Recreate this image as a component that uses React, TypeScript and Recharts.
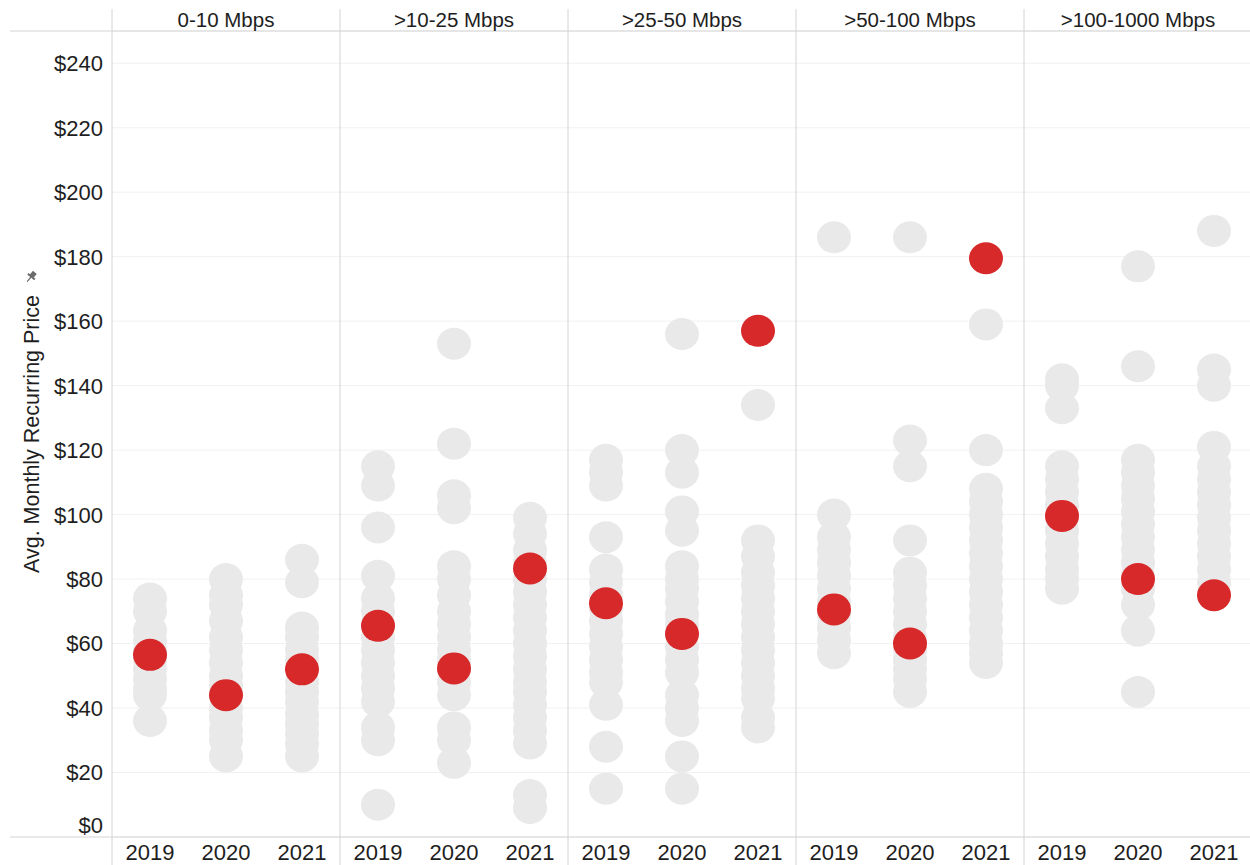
import React from "react";
import { ScatterChart, Scatter, XAxis, YAxis, CartesianGrid } from "recharts";

const tiers = ["0-10 Mbps", ">10-25 Mbps", ">25-50 Mbps", ">50-100 Mbps", ">100-1000 Mbps"];
const years = ["2019", "2020", "2021"];
const priceTicks = [0, 20, 40, 60, 80, 100, 120, 140, 160, 180, 200, 220, 240];

// individual plan prices, one list per year (2019, 2020, 2021)
const prices0to10 = [
  [74, 70, 64, 61, 58, 55, 52, 49, 46, 44, 36],
  [80, 75, 72, 67, 62, 58, 54, 50, 47, 44, 40, 37, 33, 30, 25],
  [86, 79, 65, 62, 58, 55, 52, 48, 45, 42, 38, 35, 32, 29, 25],
];
const prices10to25 = [
  [115, 109, 96, 81, 74, 70, 66, 62, 58, 54, 50, 46, 42, 34, 30, 10],
  [153, 122, 106, 102, 84, 80, 75, 70, 66, 62, 58, 55, 52, 48, 44, 34, 30, 23],
  [99, 94, 89, 85, 80, 76, 72, 68, 64, 60, 56, 52, 48, 45, 41, 37, 33, 29, 13, 9],
];
const prices25to50 = [
  [117, 113, 109, 93, 83, 79, 75, 71, 67, 63, 59, 55, 51, 48, 41, 28, 15],
  [156, 120, 113, 101, 95, 84, 80, 77, 73, 69, 66, 59, 55, 51, 44, 40, 36, 25, 15],
  [134, 92, 87, 82, 78, 74, 70, 66, 62, 58, 54, 50, 46, 43, 37, 34],
];
const prices50to100 = [
  [186, 100, 93, 89, 85, 81, 77, 73, 69, 65, 61, 57],
  [186, 123, 115, 92, 82, 78, 74, 70, 66, 62, 58, 55, 52, 49, 45],
  [159, 120, 108, 104, 100, 96, 92, 88, 84, 80, 76, 72, 68, 64, 60, 57, 54],
];
const prices100to1000 = [
  [142, 140, 133, 115, 111, 107, 103, 99, 95, 91, 87, 83, 80, 77],
  [177, 146, 117, 113, 109, 105, 101, 97, 93, 89, 85, 81, 77, 72, 64, 45],
  [188, 145, 140, 121, 115, 111, 107, 103, 99, 95, 91, 87, 83, 79],
];
// average per tier, per year
const avgPrices = [
  [56.5, 44, 52],
  [65.5, 52.3, 83.3],
  [72.5, 63, 157],
  [70.6, 60, 179.5],
  [99.6, 80, 75],
];

const tierPrices = [prices0to10, prices10to25, prices25to50, prices50to100, prices100to1000];

const planPoints = tierPrices.flatMap((byYear, t) =>
  byYear.flatMap((list, y) => list.map((price) => ({ slot: t * 3 + y, price })))
);
const avgPoints = avgPrices.flatMap((row, t) => row.map((price, y) => ({ slot: t * 3 + y, price })));
const yearSlots = planPoints.map((p) => p.slot).filter((s, i, a) => a.indexOf(s) === i);
const tierSlots = tiers.map((_, t) => t * 3 + 1);

const W = 1250;
const H = 865;
const LEFT = 112;
const TOP = 31;
const BOTTOM = 28;
const RIGHT = -2; // last panel runs slightly past the window edge
const PANEL_W = (W - RIGHT - LEFT) / tiers.length;
const FONT = "'Liberation Sans', Arial, sans-serif";
const LINE = "#d4d4d4";

function PriceTick({ x, y, payload }: any) {
  return (
    <text x={x} y={payload.value === 0 ? y - 12 : y} dy="0.36em" textAnchor="end"
      fontSize={22} fontFamily={FONT} fill="#1e1e1e">
      ${payload.value}
    </text>
  );
}

function YearTick({ x, y, payload }: any) {
  return (
    <text x={x} y={y + 15} dy="0.36em" textAnchor="middle" fontSize={22} fontFamily={FONT} fill="#1e1e1e">
      {years[payload.value % 3]}
    </text>
  );
}

function TierTick({ x, y, payload }: any) {
  return (
    <text x={x} y={y - 11} dy="0.36em" textAnchor="middle" fontSize={20.5} fontFamily={FONT} fill="#1e1e1e">
      {tiers[Math.floor(payload.value / 3)]}
    </text>
  );
}

const greyDot = (props: any) => <ellipse cx={props.cx} cy={props.cy} rx={17} ry={16} fill="#e9e9e9" />;
const redDot = (props: any) => <ellipse cx={props.cx} cy={props.cy} rx={17} ry={16} fill="#d7282a" />;

export default function App() {
  return (
    <div style={{ position: "absolute", left: 0, top: 0, width: W, height: H, background: "#fff", overflow: "hidden" }}>
      <ScatterChart width={W} height={H} margin={{ top: 0, right: RIGHT, bottom: 0, left: 0 }}>
        <CartesianGrid xAxisId="years" vertical={false} stroke="#f1f1f1" />
        <XAxis xAxisId="years" type="number" dataKey="slot" domain={[-0.5, 14.5]} ticks={yearSlots}
          interval={0} tick={<YearTick />} tickLine={false} tickSize={0} tickMargin={0}
          axisLine={false} height={BOTTOM} />
        <XAxis xAxisId="tiers" orientation="top" type="number" dataKey="slot" domain={[-0.5, 14.5]}
          ticks={tierSlots} interval={0} tick={<TierTick />} tickLine={false} tickSize={0}
          tickMargin={0} axisLine={false} height={TOP} />
        <YAxis type="number" dataKey="price" domain={[0, 250]} ticks={priceTicks} interval={0}
          tick={<PriceTick />} tickLine={false} tickSize={0} tickMargin={9} axisLine={false} width={LEFT} />
        <Scatter xAxisId="years" data={planPoints} shape={greyDot} isAnimationActive={false} />
        <Scatter xAxisId="tiers" data={avgPoints} shape={redDot} isAnimationActive={false} />

        <line x1={10} x2={W} y1={TOP} y2={TOP} stroke={LINE} />
        <line x1={10} x2={W} y1={H - BOTTOM} y2={H - BOTTOM} stroke={LINE} />
        {tiers.map((t, i) => (
          <line key={t} x1={LEFT + i * PANEL_W} x2={LEFT + i * PANEL_W} y1={9} y2={H} stroke={LINE} />
        ))}
        <text transform={`translate(31, ${(TOP + H - BOTTOM) / 2}) rotate(-90)`} dy="0.36em"
          textAnchor="middle" fontSize={21.5} fontFamily={FONT} fill="#1e1e1e">
          Avg. Monthly Recurring Price
        </text>
        <g transform="translate(31, 277) rotate(40)" fill="#6b6b6b" stroke="#6b6b6b">
          <rect x={-2.5} y={-6} width={5} height={5} stroke="none" />
          <rect x={-4.5} y={-1.5} width={9} height={2} stroke="none" />
          <line x1={0} y1={0} x2={0} y2={6} strokeWidth={1.2} />
        </g>
      </ScatterChart>
    </div>
  );
}
